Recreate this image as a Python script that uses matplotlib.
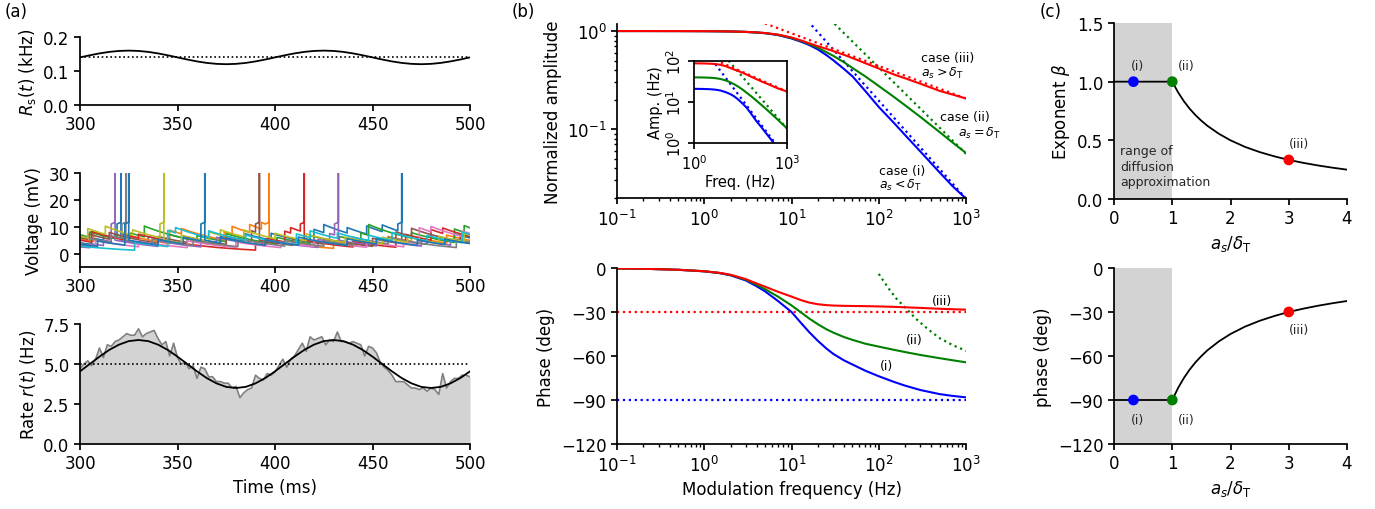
import numpy as np
import matplotlib.pyplot as plt
from matplotlib.ticker import NullFormatter, NullLocator

plt.rcParams['font.family'] = 'DejaVu Sans'
plt.rcParams['font.size'] = 12
plt.rcParams['axes.linewidth'] = 1.25
for k in ('xtick', 'ytick'):
    plt.rcParams[k + '.major.width'] = 1.25
    plt.rcParams[k + '.minor.width'] = 1.0
    plt.rcParams[k + '.major.size'] = 4
    plt.rcParams[k + '.minor.size'] = 2.2

# (a) modulated input rate Rs(t), in kHz, sampled every 5 ms
time_5ms = np.arange(300, 501, 5)
rs_khz = [0.1400, 0.1462, 0.1518, 0.1562, 0.1590, 0.1600, 0.1590, 0.1562, 0.1518, 0.1462,
          0.1400, 0.1338, 0.1282, 0.1238, 0.1210, 0.1200, 0.1210, 0.1238, 0.1282, 0.1338,
          0.1400, 0.1462, 0.1518, 0.1562, 0.1590, 0.1600, 0.1590, 0.1562, 0.1518, 0.1462,
          0.1400, 0.1338, 0.1282, 0.1238, 0.1210, 0.1200, 0.1210, 0.1238, 0.1282, 0.1338,
          0.1400]
rs_mean = 0.14

# (a) theoretical output rate (Hz) on the same 5 ms grid
rate_theory = [4.54, 5.00, 5.46, 5.88, 6.21, 6.43, 6.50, 6.43, 6.21, 5.88,
               5.46, 5.00, 4.54, 4.12, 3.79, 3.57, 3.50, 3.57, 3.79, 4.12,
               4.54, 5.00, 5.46, 5.88, 6.21, 6.43, 6.50, 6.43, 6.21, 5.88,
               5.46, 5.00, 4.54, 4.12, 3.79, 3.57, 3.50, 3.57, 3.79, 4.12,
               4.54]
rate_mean = 5.0

# (a) simulated population rate, 2 ms bins
time_bins = np.arange(300, 501, 2)
rate_sim = [4.7, 5.0, 5.2, 4.9, 5.3, 6.0, 5.4, 6.2, 6.1, 6.4,
            6.5, 6.7, 6.9, 6.8, 6.8, 7.2, 6.7, 6.9, 7.0, 7.1,
            6.6, 6.2, 6.4, 5.5, 6.3, 5.4, 5.0, 5.1, 4.7, 4.9,
            4.1, 4.8, 4.7, 4.2, 4.2, 3.9, 3.9, 3.8, 3.8, 3.5,
            3.6, 2.9, 3.2, 3.4, 3.5, 4.3, 4.1, 4.0, 4.4, 4.3,
            4.5, 4.9, 5.3, 4.8, 5.3, 5.5, 5.9, 6.3, 5.8, 6.7,
            6.5, 6.6, 6.7, 6.2, 6.5, 6.4, 7.0, 6.4, 6.4, 6.3,
            6.4, 6.3, 6.2, 5.5, 6.1, 6.0, 5.7, 5.1, 4.8, 4.6,
            4.3, 3.9, 3.9, 3.9, 3.7, 3.5, 3.5, 3.4, 3.5, 3.3,
            3.5, 3.4, 3.1, 4.4, 3.5, 3.9, 4.1, 4.1, 4.3, 4.3,
            4.2]

# (a) sample membrane potentials: start value, synaptic kicks (ms, mV) and spikes (ms)
v_start = [4.0, 5.5, 7.0, 5.0, 2.5, 6.0, 3.5, 3.0, 6.5, 2.8, 3.5]
kick_times = [
    [306, 312, 335, 345, 372, 384, 398, 420, 425, 437, 447, 455, 478, 492],
    [307, 325, 346, 352, 374, 378, 387, 393, 430, 442, 458, 470, 488],
    [305, 318, 326, 333, 360, 375, 401, 418, 433, 444, 448, 470, 492, 497],
    [306, 322, 330, 390, 396, 405, 408, 440, 462, 467, 480, 486],
    [305, 312, 340, 362, 370, 395, 422, 428, 452, 475, 490],
    [304, 315, 340, 355, 375, 388, 409, 425, 450, 462, 470, 495],
    [308, 330, 355, 380, 403, 420, 447, 466, 474, 480, 496],
    [305, 316, 337, 358, 381, 405, 425, 440, 458, 493],
    [304, 313, 327, 352, 366, 372, 384, 400, 416, 436, 455, 468, 484, 497],
    [328, 345, 349, 366, 385, 411, 418, 432, 448, 460, 478, 496],
    [309, 340, 353, 372, 395, 412, 437, 452, 473, 487],
]
kick_sizes = [
    [2.5, 2.0, 3.0, 2.5, 3.0, 3.0, 2.5, 5.0, 3.0, 2.0, 3.0, 2.5, 3.0, 3.0],
    [3.5, 2.0, 5.0, 2.0, 3.0, 3.0, 3.0, 2.5, 2.0, 2.5, 3.0, 2.0, 3.0],
    [2.0, 1.5, 2.0, 4.0, 2.0, 3.0, 2.5, 3.0, 2.0, 3.0, 4.0, 2.0, 5.0, 2.5],
    [4.0, 2.0, 1.5, 3.0, 2.0, 4.0, 2.0, 2.0, 3.0, 2.5, 4.0, 2.0],
    [1.5, 2.0, 2.0, 2.0, 2.5, 2.0, 3.0, 3.0, 2.5, 2.0, 2.0],
    [2.0, 2.5, 2.5, 2.0, 3.0, 4.0, 2.5, 2.0, 3.0, 4.0, 3.0, 2.5],
    [2.0, 2.0, 2.5, 2.0, 2.0, 2.5, 2.0, 2.0, 6.0, 2.0, 2.0],
    [3.0, 2.5, 2.0, 2.0, 3.0, 2.0, 2.0, 3.0, 2.5, 3.0],
    [3.5, 3.0, 2.0, 3.0, 3.5, 2.0, 2.5, 2.0, 2.5, 2.0, 2.5, 2.0, 2.5, 3.0],
    [3.0, 6.0, 2.0, 2.5, 2.0, 4.0, 2.5, 2.0, 2.0, 3.0, 2.0, 4.0],
    [2.0, 2.0, 2.5, 2.0, 2.0, 3.0, 2.5, 2.0, 2.0, 2.0],
]
spike_times = [[321, 465], [397], [], [415], [318, 432.5], [392], [], [323.5], [343], [], [325, 364]]
TAU_M = 35.0
V_UPSWING = 11.0
V_RESET = 5.0

# (b) transfer function for the three cases
freq = [0.1, 0.2, 0.5, 1, 1.5, 2, 3, 4, 5, 7, 10, 13, 16, 20, 25, 30, 40, 50, 70,
        100, 150, 200, 300, 500, 700, 1000]
amp_i = [1.0, 1.0, 0.999, 0.997, 0.994, 0.99, 0.98, 0.965, 0.95, 0.91, 0.84, 0.775, 0.72,
         0.65, 0.57, 0.505, 0.41, 0.345, 0.245, 0.168, 0.115, 0.087, 0.059, 0.036,
         0.0262, 0.0195]
amp_ii = [1.0, 1.0, 0.999, 0.997, 0.994, 0.99, 0.98, 0.967, 0.952, 0.915, 0.85, 0.79, 0.735,
          0.675, 0.61, 0.56, 0.48, 0.42, 0.345, 0.275, 0.212, 0.175, 0.133, 0.093, 0.073, 0.057]
amp_iii = [1.0, 1.0, 0.999, 0.997, 0.994, 0.99, 0.98, 0.968, 0.955, 0.92, 0.86, 0.80, 0.75,
           0.70, 0.66, 0.625, 0.572, 0.53, 0.47, 0.415, 0.36, 0.33, 0.29, 0.245, 0.225, 0.205]
phase_i = [-0.3, -0.5, -1.2, -2.3, -3.5, -5.0, -8.5, -12.5, -16, -22.5, -30, -37.8, -43.8,
           -49.6, -54.8, -58.5, -63, -65.8, -70, -73.8, -77.7, -80.2, -83.2, -86, -87.2, -88.2]
phase_ii = [-0.3, -0.5, -1.2, -2.2, -3.4, -4.8, -8.0, -11.5, -14.5, -19.5, -25.5, -30.5, -34.5,
            -38.3, -41.7, -44, -47.1, -49, -51.6, -53.6, -55.8, -57.3, -59.3, -61.5, -62.9, -64.3]
phase_iii = [-0.3, -0.5, -1.2, -2.2, -3.3, -4.6, -7.6, -10.6, -12.8, -16.2, -19.5, -22, -23.6,
             -24.7, -25.3, -25.6, -25.8, -25.9, -26, -26.2, -26.5, -26.8, -27.2, -27.8, -28.1, -28.4]
base_rate = [21, 40, 88]  # unnormalised amplitude scale (Hz)

# high-frequency asymptotes
asym_freq = [1, 1000]
asym_i = [19.5, 0.0195]
asym_ii = [24.4, 0.056]
asym_iii = [2.04, 0.205]
asym_phase_i = -90
asym_phase_iii = -30
tail_freq_ii = [100, 130, 160, 209, 260, 324, 400, 504, 700, 1000]
tail_phase_ii = [-4, -14, -21, -28, -34, -39, -43.5, -48, -52.5, -56.5]

# (c) exponent beta versus a_s / delta_T
ratio = [0, 1.0, 1.1, 1.2, 1.3, 1.4, 1.5, 1.6, 1.8, 2.0, 2.25, 2.5, 2.75, 3.0, 3.25, 3.5, 3.75, 4.0]
beta = [1.0, 1.0, 0.909, 0.833, 0.769, 0.714, 0.667, 0.625, 0.556, 0.5, 0.444, 0.4, 0.364,
        0.333, 0.308, 0.286, 0.267, 0.25]
case_ratio = [1 / 3, 1.0, 3.0]
case_beta = [1.0, 1.0, 0.333]
case_colors = ['blue', 'green', 'red']
case_tags = ['(i)', '(ii)', '(iii)']

W, H = 1375, 510


def box(left, top, right, bottom):
    return [left / W, 1 - bottom / H, (right - left) / W, (bottom - top) / H]


def despine(ax):
    ax.spines['top'].set_visible(False)
    ax.spines['right'].set_visible(False)


def membrane(v0, kicks, sizes, spikes):
    events = sorted([(t, s) for t, s in zip(kicks, sizes)] + [(t, None) for t in spikes])
    ts, vs = [300.0], [v0]

    def relax(t_end):
        t0, v0_ = ts[-1], vs[-1]
        if t_end <= t0:
            return
        seg = np.linspace(t0, t_end, int((t_end - t0) / 0.5) + 2)[1:]
        ts.extend(seg)
        vs.extend(v0_ * np.exp(-(seg - t0) / TAU_M))

    for te, dv in events:
        if dv is None:
            relax(te - 2)
            ts.extend([te - 2, te, te, te])
            vs.extend([V_UPSWING, V_UPSWING + 0.7, 45, V_RESET])
        else:
            relax(te)
            ts.append(te)
            vs.append(vs[-1] + dv)
    relax(500.0)
    return ts, vs


fig = plt.figure(figsize=(13.75, 5.1), dpi=100)

# ---------------- (a) ----------------
dots = (0, (1, 1.6))
ax = fig.add_axes(box(80, 38, 470, 106))
ax.plot(time_5ms, rs_khz, color='k', lw=1.3)
ax.axhline(rs_mean, color='k', ls=dots, lw=1.2)
ax.set_xlim(300, 500)
ax.set_ylim(0, 0.2)
ax.set_yticks([0.0, 0.1, 0.2])
ax.set_xticks([300, 350, 400, 450, 500])
ax.set_ylabel(r'$R_{\rm s}(t)$ (kHz)')
despine(ax)

ax = fig.add_axes(box(80, 174, 470, 268))
colors = plt.rcParams['axes.prop_cycle'].by_key()['color']
for n in range(len(v_start)):
    ts, vs = membrane(v_start[n], kick_times[n], kick_sizes[n], spike_times[n])
    ax.plot(ts, vs, color=colors[n % 10], lw=1.2)
ax.set_xlim(300, 500)
ax.set_ylim(-5, 30)
ax.set_yticks([0, 10, 20, 30])
ax.set_xticks([300, 350, 400, 450, 500])
ax.set_ylabel('Voltage (mV)')
despine(ax)

ax = fig.add_axes(box(80, 325, 470, 445))
ax.fill_between(time_bins, rate_sim, color='lightgray', lw=0)
ax.plot(time_bins, rate_sim, color='gray', lw=1.2)
ax.plot(time_5ms, rate_theory, color='k', lw=1.3)
ax.axhline(rate_mean, color='k', ls=dots, lw=1.2)
ax.set_xlim(300, 500)
ax.set_ylim(0, 7.5)
ax.set_yticks([0.0, 2.5, 5.0, 7.5])
ax.set_xticks([300, 350, 400, 450, 500])
ax.set_ylabel(r'Rate $r(t)$ (Hz)')
ax.set_xlabel('Time (ms)')
despine(ax)

# ---------------- (b) ----------------
amps = [amp_i, amp_ii, amp_iii]
asyms = [asym_i, asym_ii, asym_iii]
ax = fig.add_axes(box(617, 25, 966, 199))
for a, s, c in zip(amps, asyms, case_colors):
    ax.plot(asym_freq, s, color=c, ls=':', lw=1.6)
for a, c in zip(amps, case_colors):
    ax.plot(freq, a, color=c, lw=1.5)
ax.set_xscale('log')
ax.set_yscale('log')
ax.set_xlim(0.1, 1000)
ax.set_ylim(0.0198, 1.18)
ax.yaxis.set_minor_formatter(NullFormatter())
ax.set_ylabel('Normalized amplitude')
kw = dict(fontsize=9, va='center')
ax.text(305, 0.54, 'case (iii)', ha='left', **kw)
ax.text(305, 0.38, r'$a_s > \delta_{\rm T}$', ha='left', **kw)
ax.text(504, 0.133, 'case (ii)', ha='left', **kw)
ax.text(809, 0.093, r'$a_s = \delta_{\rm T}$', ha='left', **kw)
ax.text(101, 0.038, 'case (i)', ha='left', **kw)
ax.text(101, 0.027, r'$a_s < \delta_{\rm T}$', ha='left', **kw)
despine(ax)

axin = fig.add_axes(box(694, 62, 787, 144))
for a, s, c, r0 in zip(amps, asyms, case_colors, base_rate):
    axin.plot(asym_freq, np.array(s) * r0, color=c, ls=':', lw=1.6)
    axin.plot(freq, np.array(a) * r0, color=c, lw=1.5)
axin.set_xscale('log')
axin.set_yscale('log')
axin.set_xlim(1, 1000)
axin.set_ylim(1, 100)
axin.set_xticks([1, 1000])
axin.set_yticks([1, 10, 100])
axin.xaxis.set_minor_locator(NullLocator())
axin.yaxis.set_minor_locator(NullLocator())
axin.tick_params(labelsize=10.5)
for lab in axin.get_yticklabels():
    lab.set_rotation(90)
    lab.set_va('center')
axin.set_xlabel('Freq. (Hz)', fontsize=10.5, labelpad=1)
axin.set_ylabel('Amp. (Hz)', fontsize=10.5, labelpad=1)

ax = fig.add_axes(box(617, 269, 966, 445))
ax.axhline(asym_phase_iii, color='red', ls=':', lw=1.6)
ax.axhline(asym_phase_i, color='blue', ls=':', lw=1.6)
ax.plot(tail_freq_ii, tail_phase_ii, color='green', ls=':', lw=1.6)
for p, c in zip([phase_i, phase_ii, phase_iii], case_colors):
    ax.plot(freq, p, color=c, lw=1.5)
ax.set_xscale('log')
ax.set_xlim(0.1, 1000)
ax.set_ylim(-120, 0)
ax.set_yticks([0, -30, -60, -90, -120])
ax.text(407, -22.5, '(iii)', fontsize=9, va='center')
ax.text(205, -49, '(ii)', fontsize=9, va='center')
ax.text(103, -66.8, '(i)', fontsize=9, va='center')
ax.set_ylabel('Phase (deg)')
ax.set_xlabel('Modulation frequency (Hz)')
despine(ax)

# ---------------- (c) ----------------
ax = fig.add_axes(box(1114, 24, 1347, 200))
ax.axvspan(0, 1, color='lightgray', lw=0)
ax.plot(ratio, beta, color='k', lw=1.3)
ax.scatter(case_ratio, case_beta, c=case_colors, s=45, zorder=3)
ax.set_xlim(0, 4)
ax.set_ylim(0, 1.5)
ax.set_xticks([0, 1, 2, 3, 4])
ax.set_yticks([0.0, 0.5, 1.0, 1.5])
for x, y, t in zip([0.41, 1.24, 3.18], [1.134, 1.134, 0.477], case_tags):
    ax.text(x, y, t, fontsize=9, ha='center', va='center', color='0.15')
ax.text(0.1, 0.28, 'range of\ndiffusion\napproximation', fontsize=9, va='center',
        ha='left', color='0.15', linespacing=1.25)
ax.set_ylabel(r'Exponent $\beta$')
ax.set_xlabel(r'$a_s/\delta_{\rm T}$')
despine(ax)

ax = fig.add_axes(box(1114, 269, 1347, 445))
ax.axvspan(0, 1, color='lightgray', lw=0)
ax.plot(ratio, -90 * np.array(beta), color='k', lw=1.3)
ax.scatter(case_ratio, -90 * np.array(case_beta), c=case_colors, s=45, zorder=3)
ax.set_xlim(0, 4)
ax.set_ylim(-120, 0)
ax.set_xticks([0, 1, 2, 3, 4])
ax.set_yticks([0, -30, -60, -90, -120])
for x, y, t in zip([0.41, 1.24, 3.18], [-103, -103, -41.6], case_tags):
    ax.text(x, y, t, fontsize=9, ha='center', va='center', color='0.15')
ax.set_ylabel('phase (deg)')
ax.set_xlabel(r'$a_s/\delta_{\rm T}$')
despine(ax)

fig.text(5 / W, 1 - 3 / H, '(a)', va='top', ha='left', fontsize=12)
fig.text(512 / W, 1 - 3 / H, '(b)', va='top', ha='left', fontsize=12)
fig.text(1040 / W, 1 - 3 / H, '(c)', va='top', ha='left', fontsize=12)

fig.savefig('out.png', dpi=100)
